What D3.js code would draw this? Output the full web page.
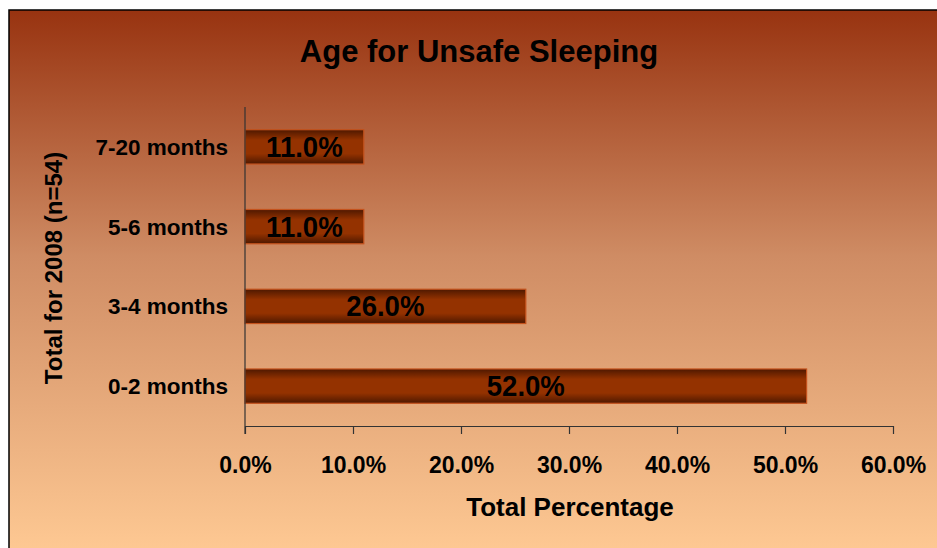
<!DOCTYPE html>
<html>
<head>
<meta charset="utf-8">
<script src="https://cdn.jsdelivr.net/npm/d3@7"></script>
<style>
  html, body { margin: 0; padding: 0; background: #ffffff; }
  svg { display: block; }
  text { font-family: "Liberation Sans", Arial, sans-serif; font-weight: bold; }
</style>
</head>
<body>
<svg id="chart" width="937" height="548"></svg>
<script>
// ---- data ----
const categories = ["7-20 months", "5-6 months", "3-4 months", "0-2 months"];
const values = [11.0, 11.0, 26.0, 52.0];
const xTicks = [0, 10, 20, 30, 40, 50, 60];
const chartTitle = "Age for Unsafe Sleeping";
const xTitle = "Total Percentage";
const yTitle = "Total for 2008 (n=54)";

const W = 937, H = 548;
const svg = d3.select("#chart");
const defs = svg.append("defs");

// background gradient
const bg = defs.append("linearGradient").attr("id", "bg")
  .attr("x1", 0).attr("y1", 0).attr("x2", 0).attr("y2", 1);
bg.append("stop").attr("offset", "0%").attr("stop-color", "#983310");
bg.append("stop").attr("offset", "45%").attr("stop-color", "#cf8c64");
bg.append("stop").attr("offset", "100%").attr("stop-color", "#ffca94");

// bar gradient (vertical, dark edges)
const bg2 = defs.append("linearGradient").attr("id", "bar")
  .attr("x1", 0).attr("y1", 0).attr("x2", 0).attr("y2", 1);
bg2.append("stop").attr("offset", "0%").attr("stop-color", "#4e1800");
bg2.append("stop").attr("offset", "30%").attr("stop-color", "#943200");
bg2.append("stop").attr("offset", "70%").attr("stop-color", "#943200");
bg2.append("stop").attr("offset", "100%").attr("stop-color", "#4e1800");

// frame
svg.append("rect").attr("x", 9).attr("y", 10).attr("width", W).attr("height", H)
  .attr("fill", "url(#bg)").attr("stroke", "#000").attr("stroke-width", 1.5);

// scales
const margin = { left: 245, right: 893, top: 107, bottom: 426 };
const x = d3.scaleLinear().domain([0, 60]).range([margin.left, margin.right]);
const y = d3.scaleBand().domain(categories).range([margin.top, margin.bottom])
  .paddingInner(0.57).paddingOuter(0.285);

// title
svg.append("text").attr("x", 479).attr("y", 62).attr("text-anchor", "middle")
  .attr("font-size", 31).attr("fill", "#000").text(chartTitle);

// bars
svg.append("g").selectAll("rect").data(values).join("rect")
  .attr("x", x(0))
  .attr("y", (d, i) => y(categories[i]))
  .attr("width", d => x(d) - x(0))
  .attr("height", y.bandwidth())
  .attr("fill", "url(#bar)")
  .attr("stroke", "#c4521c").attr("stroke-width", 1.2);

// value labels
svg.append("g").selectAll("text").data(values).join("text")
  .attr("x", d => (x(0) + x(d)) / 2)
  .attr("y", (d, i) => y(categories[i]) + y.bandwidth() / 2 + 10)
  .attr("text-anchor", "middle")
  .attr("font-size", 29).attr("fill", "#000")
  .attr("transform", d => { const cx = (x(0) + x(d)) / 2; return `translate(${cx},0) scale(0.95,1) translate(${-cx},0)`; })
  .text(d => d.toFixed(1) + "%");

// x axis
const xAxis = d3.axisBottom(x).tickValues(xTicks).tickSize(8).tickSizeOuter(0)
  .tickFormat(d => d.toFixed(1) + "%");
const gx = svg.append("g").attr("transform", `translate(0,${margin.bottom})`).call(xAxis);
gx.select(".domain").attr("stroke", "#333").attr("stroke-width", 1.2);
gx.selectAll(".tick line").attr("stroke", "#333").attr("stroke-width", 1.2);
gx.selectAll(".tick text").attr("font-size", 23).attr("fill", "#000")
  .attr("font-family", "Liberation Sans, Arial, sans-serif").attr("font-weight", "bold")
  .attr("dy", "0").attr("y", 47);

// y axis
const yAxis = d3.axisLeft(y).tickSize(0).tickPadding(17);
const gy = svg.append("g").attr("transform", `translate(${margin.left},0)`).call(yAxis);
gy.select(".domain").attr("stroke", "#333").attr("stroke-width", 1.2)
  .attr("d", `M0,${margin.top}V${margin.bottom + 8}`);
gy.selectAll(".tick text").attr("font-size", 22.5).attr("fill", "#000")
  .attr("font-family", "Liberation Sans, Arial, sans-serif").attr("font-weight", "bold")
  .attr("dy", "0.35em");

// axis titles
svg.append("text").attr("x", 570).attr("y", 516).attr("text-anchor", "middle")
  .attr("font-size", 26).attr("fill", "#000").text(xTitle);
svg.append("text").attr("transform", "translate(62,268) rotate(-90)")
  .attr("text-anchor", "middle").attr("font-size", 24).attr("fill", "#000").text(yTitle);
</script>
</body>
</html>
